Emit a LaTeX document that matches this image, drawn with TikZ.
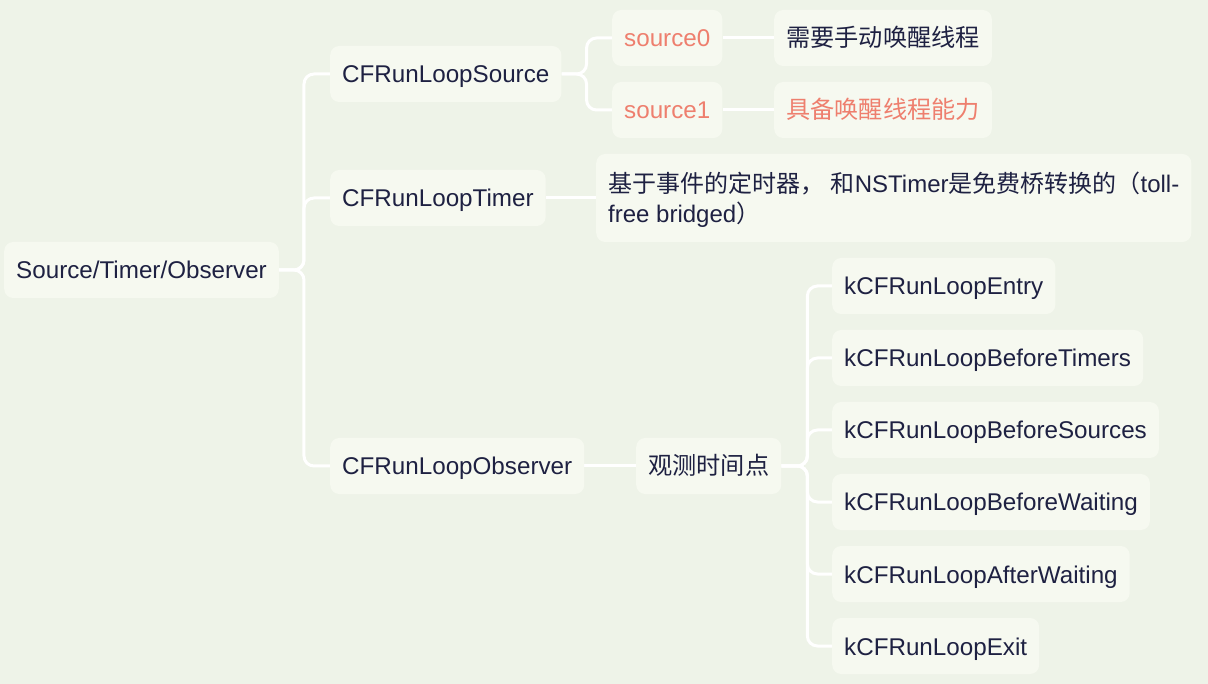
\documentclass[tikz,border=0pt]{standalone}
\usepackage{fontspec}
\setmainfont{Liberation Sans}
\newfontfamily\cjk{Noto Sans CJK SC}
\usetikzlibrary{backgrounds}
\definecolor{bg}{HTML}{EEF3E8}
\definecolor{boxc}{HTML}{F6F9F0}
\definecolor{ink}{HTML}{1E2142}
\definecolor{salmon}{HTML}{EE7F6E}
\begin{document}
\begin{tikzpicture}[x=1pt,y=-1pt,
  box/.style={fill=boxc, rounded corners=9pt, inner xsep=12pt, minimum height=56pt, anchor=west, text=ink, font=\fontsize{24.2}{30}\selectfont, text height=20pt, text depth=2pt},
  hl/.style={text=salmon},
  link/.style={draw=white, line width=3pt, rounded corners=10pt}]
\useasboundingbox (0,0) rectangle (1208,684);
\node[box] (root) at (4,270) {Source/Timer/Observer};
\node[box] (src) at (330,74) {CFRunLoopSource};
\node[box] (tim) at (330,198) {CFRunLoopTimer};
\node[box] (obs) at (330,466) {CFRunLoopObserver};
\node[box,hl] (s0) at (612,38) {source0};
\node[box,hl] (s1) at (612,110) {source1};
\node[box] (d0) at (774,38) {\cjk 需要手动唤醒线程};
\node[box,hl] (d1) at (774,110) {\cjk 具备唤醒线程能力};
\node[box, text height=, text depth=, minimum height=88pt, font=\fontsize{24}{30}\selectfont] (td) at (596,198)
  {\raisebox{-4pt}[\height][\depth]{\begin{tabular}{@{}l@{}}{\cjk 基于事件的定时器，} {\cjk 和}NSTimer{\cjk 是免费桥转换的（}toll-\\free bridged{\cjk ）}\end{tabular}}};
\node[box] (pt) at (636,466) {\cjk 观测时间点};
\node[box] (k1) at (832,286) {kCFRunLoopEntry};
\node[box] (k2) at (832,358) {kCFRunLoopBeforeTimers};
\node[box] (k3) at (832,430) {kCFRunLoopBeforeSources};
\node[box] (k4) at (832,502) {kCFRunLoopBeforeWaiting};
\node[box] (k5) at (832,574) {kCFRunLoopAfterWaiting};
\node[box] (k6) at (832,646) {kCFRunLoopExit};
\begin{scope}[on background layer]
\fill[bg] (0,0) rectangle (1208,684);
\draw[link] (root.east) -- ++(25,0) |- (src.west);
\draw[link] (root.east) -- ++(25,0) |- (tim.west);
\draw[link] (root.east) -- ++(25,0) |- (obs.west);
\draw[link] (src.east) -- ++(25,0) |- (s0.west);
\draw[link] (src.east) -- ++(25,0) |- (s1.west);
\draw[link] (s0.east) -- (d0.west);
\draw[link] (s1.east) -- (d1.west);
\draw[link] (tim.east) -- (tim.east -| td.west);
\draw[link] (obs.east) -- (pt.west);
\foreach \k in {k1,k2,k3,k4,k5,k6}
  \draw[link] (pt.east) -- ++(26,0) |- (\k.west);
\end{scope}
\end{tikzpicture}
\end{document}
